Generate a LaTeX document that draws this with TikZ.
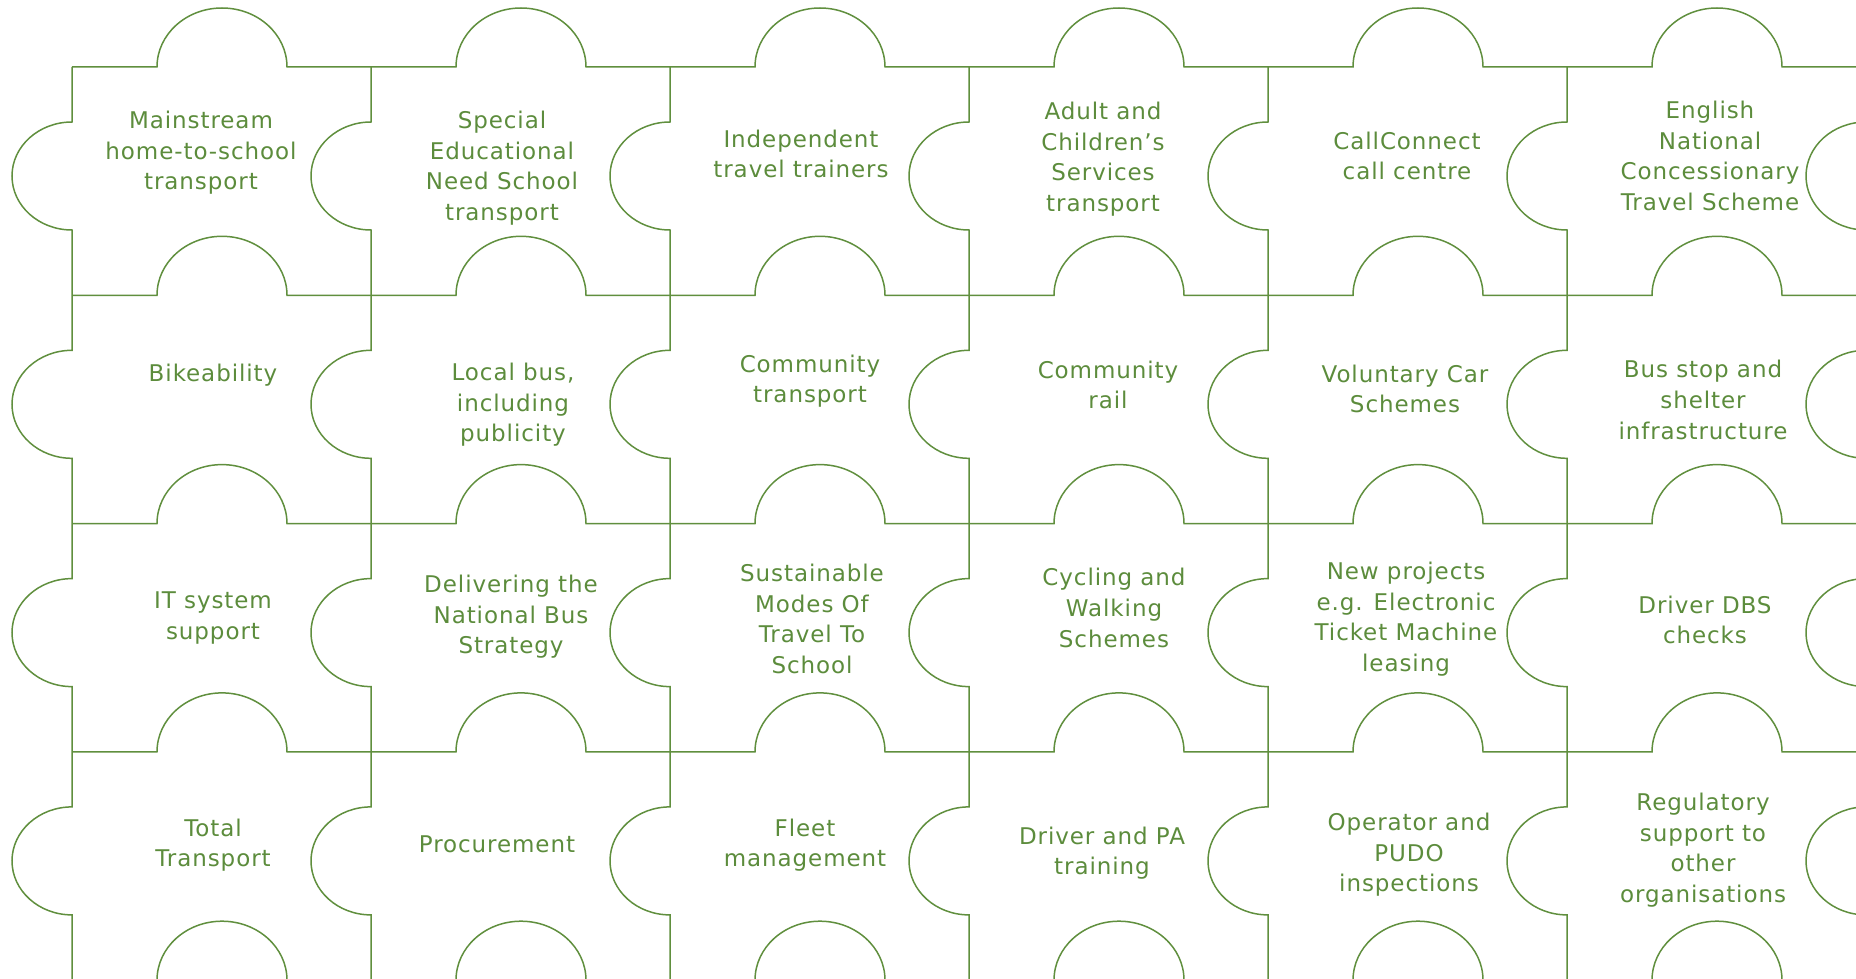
\documentclass[tikz,border=0pt]{standalone}
\usepackage{fontspec}
\setmainfont{DejaVu Sans}[LetterSpace=4]
\definecolor{leaf}{RGB}{96,143,62}
\definecolor{leaftext}{RGB}{92,140,60}
\begin{document}
\begin{tikzpicture}[x=1pt,y=1pt,
  edge/.style={draw=leaf,line width=1.5pt,line join=miter},
  piece/.style={text=leaftext,align=center,inner sep=0pt,
    font=\fontsize{23}{30.6}\selectfont}]
\useasboundingbox (0,-979) rectangle (1856,0);
\clip (0,-979) rectangle (1856,0);
% vertical seams: columns 72 + 299c, tabs bulge to the left
\foreach \c in {0,...,6}{
  \pgfmathsetmacro{\X}{72+299*\c}
  \draw[edge] (\X,-67)
    \foreach \r in {0,...,3}{
      -- (\X,{-(67+228.3*\r+55)})
      arc[start angle=90,end angle=270,x radius=60pt,y radius=54pt]
      -- (\X,{-(67+228.3*(\r+1))})
    };
}
% horizontal seams: rows 67 + 228.3r, tabs bulge upwards
\foreach \r in {0,...,4}{
  \pgfmathsetmacro{\Y}{-(67+228.3*\r)}
  \draw[edge] (72,\Y)
    \foreach \c in {0,...,5}{
      -- ({72+299*\c+85},\Y)
      arc[start angle=180,end angle=0,x radius=65pt,y radius=59pt]
      -- ({72+299*(\c+1)},\Y)
    };
}
% row 1
\node[piece] (p1) at (201,-153) {Mainstream\\home-to-school\\transport};
\node[piece] (p2) at (502,-168) {Special\\Educational\\Need School\\transport};
\node[piece] (p3) at (801,-154) {Independent\\travel trainers};
\node[piece] (p4) at (1103,-159) {Adult and\\Children’s\\Services\\transport};
\node[piece] (p5) at (1407,-156) {CallConnect\\call centre};
\node[piece] (p6) at (1710,-156) {English\\National\\Concessionary\\Travel Scheme};
% row 2
\node[piece] (p7) at (213,-375) {Bikeability};
\node[piece] (p8) at (513,-405) {Local bus,\\including\\publicity};
\node[piece] (p9) at (810,-381) {Community\\transport};
\node[piece] (p10) at (1108,-385) {Community\\rail};
\node[piece] (p11) at (1405,-389) {Voluntary Car\\Schemes};
\node[piece] (p12) at (1703,-400) {Bus stop and\\shelter\\infrastructure};
% row 3
\node[piece] (p13) at (213,-618) {IT system\\support};
\node[piece] (p14) at (511,-617) {Delivering the\\National Bus\\Strategy};
\node[piece] (p15) at (812,-619) {Sustainable\\Modes Of\\Travel To\\School};
\node[piece] (p16) at (1114,-608) {Cycling and\\Walking\\Schemes};
\node[piece] (p17) at (1406,-619) {New projects\\e.g. Electronic\\Ticket Machine\\leasing};
\node[piece] (p18) at (1705,-620) {Driver DBS\\checks};
% row 4
\node[piece] (p19) at (213,-845) {Total\\Transport};
\node[piece] (p20) at (497,-844) {Procurement};
\node[piece] (p21) at (805,-845) {Fleet\\management};
\node[piece] (p22) at (1102,-853) {Driver and PA\\training};
\node[piece] (p23) at (1409,-855) {Operator and\\PUDO\\inspections};
\node[piece] (p24) at (1703,-850) {Regulatory\\support to\\other\\organisations};
\end{tikzpicture}
\end{document}
